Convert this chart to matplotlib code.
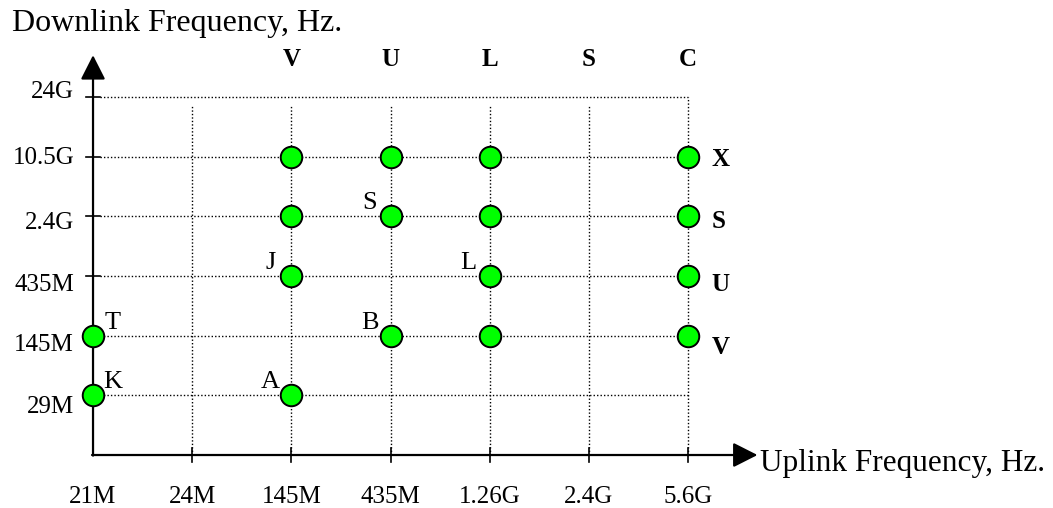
import matplotlib.pyplot as plt

# category axes (equally spaced, not log)
uplink = ['21M', '24M', '145M', '435M', '1.26G', '2.4G', '5.6G']
downlink = ['29M', '145M', '435M', '2.4G', '10.5G', '24G']
uplink_bands = ['V', 'U', 'L', 'S', 'C']          # over 145M .. 5.6G
downlink_bands = ['X', 'S', 'U', 'V']             # beside 10.5G .. 145M

# points: (uplink, downlink, label)
pts_up = ['145M', '435M', '1.26G', '5.6G',
          '145M', '435M', '1.26G', '5.6G',
          '145M', '1.26G', '5.6G',
          '21M', '435M', '1.26G', '5.6G',
          '21M', '145M']
pts_down = ['10.5G', '10.5G', '10.5G', '10.5G',
            '2.4G', '2.4G', '2.4G', '2.4G',
            '435M', '435M', '435M',
            '145M', '145M', '145M', '145M',
            '29M', '29M']
pts_lab = ['', '', '', '',
           '', 'S', '', '',
           'J', 'L', '',
           'T', 'B', '', '',
           'K', 'A']

plt.rcParams['font.family'] = ['Liberation Serif', 'DejaVu Serif']

fig = plt.figure(figsize=(10.53, 5.08), dpi=100)
ax = fig.add_axes([0, 0, 1, 1])
ax.set_xlim(-0.938, 9.68)
ax.set_ylim(-0.888, 7.625)
ax.axis('off')

xi = {u: i for i, u in enumerate(uplink)}
yi = {d: i + 1 for i, d in enumerate(downlink)}
ytop = yi['24G']
xr = xi['5.6G']

# grid
for d in downlink:
    ax.plot([0.07, xr], [yi[d], yi[d]], color='k', lw=1, ls=(0, (1, 1.5)), zorder=1)
for u in uplink[1:]:
    top = ytop if u == '5.6G' else ytop - 0.13
    ax.plot([xi[u], xi[u]], [0, top], color='k', lw=1, ls=(0, (1, 1.5)), zorder=1)

# axes with arrows
arrow = dict(arrowstyle='-|>,head_length=0.75,head_width=0.38', mutation_scale=20,
             lw=1.6, color='k', shrinkA=0, shrinkB=0)
ax.annotate('', xy=(6.7, 0), xytext=(-0.01, 0), arrowprops=arrow)
ax.annotate('', xy=(0, 6.7), xytext=(0, -0.01), arrowprops=arrow)

# ticks
for u in uplink[1:]:
    ax.plot([xi[u], xi[u]], [-0.11, 0.11], color='k', lw=1.2)
    ax.text(xi[u], -0.7, u, ha='center', va='center', fontsize=18)
ax.text(0, -0.7, uplink[0], ha='center', va='center', fontsize=18)
# label nudges as in the original drawing (labels were hand placed)
ylab_nudge = [-0.2, -0.15, -0.15, -0.12, -0.02, 0.08]
for d, off in zip(downlink, ylab_nudge):
    ax.plot([-0.07, 0.07], [yi[d], yi[d]], color='k', lw=1.2)
    ax.text(-0.19, yi[d] + off, d, ha='right', va='center', fontsize=18)

# band letters
for b, u in zip(uplink_bands, uplink[2:]):
    ax.text(xi[u], 6.62, b, ha='center', va='center', fontsize=18, fontweight='bold')
for k, (b, d) in enumerate(zip(downlink_bands, ['10.5G', '2.4G', '435M', '145M'])):
    ax.text(xr + 0.24, yi[d] - 0.04 - 0.05 * k, b, ha='left', va='center',
            fontsize=18, fontweight='bold')

# points
px = [xi[u] for u in pts_up]
py = [yi[d] for d in pts_down]
ax.plot(px, py, 'o', ms=15.5, mfc='#00ff00', mec='k', mew=1.4, ls='none', zorder=3)
for x, y, lab in zip(px, py, pts_lab):
    if not lab:
        continue
    dx = 20 if x == 0 else -21
    ax.annotate(lab, (x, y), xytext=(dx, 13), textcoords='offset pixels',
                ha='center', va='center', fontsize=19)

ax.text(760 / 1053, 1 - 463 / 508, 'Uplink Frequency, Hz.', transform=ax.transAxes,
        ha='left', va='center', fontsize=22.5)
ax.text(12 / 1053, 1 - 24 / 508, 'Downlink Frequency, Hz.', transform=ax.transAxes,
        ha='left', va='center', fontsize=23)

fig.savefig('out.png', dpi=100)
